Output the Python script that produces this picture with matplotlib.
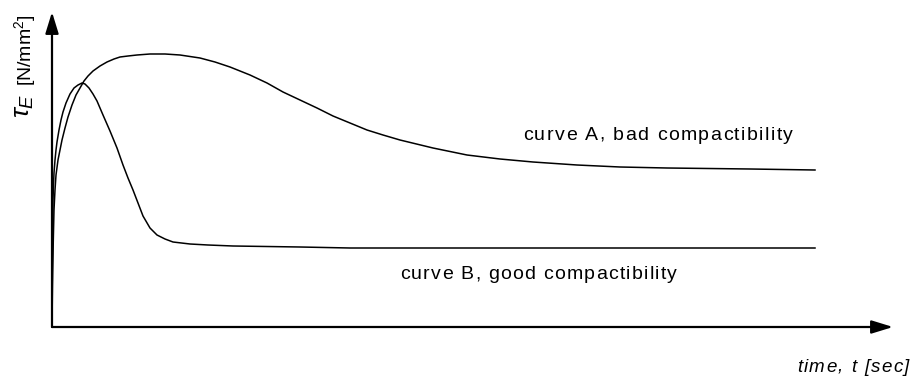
import matplotlib
matplotlib.use('Agg')
import matplotlib.pyplot as plt
from matplotlib.font_manager import FontProperties

plt.rcParams['font.family'] = ['Liberation Sans', 'DejaVu Sans']
plt.rcParams['mathtext.fontset'] = 'custom'
plt.rcParams['mathtext.it'] = 'Liberation Sans:italic'
plt.rcParams['mathtext.rm'] = 'Liberation Sans'

# shear stress curves, time vs tau_E (arbitrary units)
t_a = [0, 0.3, 0.7, 1.3, 2, 3, 4, 6, 8, 10, 13, 16, 20, 24, 28, 32, 36, 41, 48, 55,
       62, 68, 76, 85, 98, 113, 128, 148, 163, 178, 198, 215, 231, 248, 265, 281, 298,
       315, 331, 348, 381, 415, 448, 481, 525, 568, 615, 698, 763]
tau_a = [0, 27, 57, 87, 117, 137, 152, 167, 177, 187, 199, 210, 222, 232, 239, 246,
         251, 256, 261, 265, 268, 270, 271, 272, 273, 273, 272, 269, 265, 260, 252, 244,
         235, 227, 219, 211, 204, 197, 192, 187, 179, 172, 168, 165, 162, 160, 159, 158,
         157]

t_b = [0, 0.2, 0.5, 0.8, 1, 1.5, 2, 3, 4, 5, 7, 9, 11, 14, 18, 22, 26, 30, 33, 37,
       41, 45, 51, 58, 65, 71, 76, 81, 86, 91, 98, 105, 113, 121, 138, 156, 181, 248,
       298, 763]
tau_b = [0, 37, 77, 107, 127, 142, 154, 167, 177, 185, 197, 207, 215, 224, 233, 239,
         242, 244, 243, 239, 233, 226, 212, 196, 179, 162, 149, 137, 124, 111, 99, 92,
         88, 85, 83, 82, 81, 80, 79, 79]

label_a = 'curve A, bad compactibility'
label_b = 'curve B, good compactibility'
label_t = 'time, t [sec]'
label_sym = r'$\tau_E$'
label_unit = r'[N/mm$^2$]'

W, H = 913, 378
fig = plt.figure(figsize=(W / 100, H / 100), dpi=100)
ax = fig.add_axes([52 / W, 51 / H, 841 / W, 315 / H])
ax.set_xlim(0, 841)
ax.set_ylim(0, 315)
ax.axis('off')

ax.plot(t_a, tau_a, color='black', lw=1.1, solid_joinstyle='round')
ax.plot(t_b, tau_b, color='black', lw=1.1, solid_joinstyle='round')

# axes with arrow heads
arrow = dict(arrowstyle='-|>,head_length=1.3,head_width=0.4', color='black', lw=1.6,
             shrinkA=0, shrinkB=0)
ax.annotate('', xy=(0, 1), xytext=(0, 0), xycoords='axes fraction', arrowprops=arrow)
ax.annotate('', xy=(1, 0), xytext=(0, 0), xycoords='axes fraction', arrowprops=arrow)

renderer = fig.canvas.get_renderer()


def advance(ch, prop):
    w1 = renderer.get_text_width_height_descent('|' + ch + '|', prop, ismath=False)[0]
    w0 = renderer.get_text_width_height_descent('||', prop, ismath=False)[0]
    return w1 - w0


def spaced_text(x, y, s, width, size=14, style='normal'):
    # letter-spaced text, left edge x / baseline y in pixels, stretched to width
    prop = FontProperties(family='Liberation Sans', size=size, style=style)
    adv = [advance(ch, prop) for ch in s]
    track = (width - sum(adv)) / (len(s) - 1)
    pos = x
    for ch, a in zip(s, adv):
        fig.text(pos / W, 1 - y / H, ch, fontproperties=prop, ha='left', va='baseline')
        pos += a + track


spaced_text(523, 140, label_a, 270)
spaced_text(400, 279, label_b, 277)
spaced_text(797, 372, label_t, 112, size=13.5, style='italic')

# y label: bigger symbol, unit above it
fig.text(25 / W, 1 - 50 / H, label_unit, fontsize=14, rotation=90,
         ha='center', va='center')
fig.text(24 / W, 1 - 106 / H, label_sym, fontsize=19, rotation=90,
         ha='center', va='center')

fig.savefig('out.png', dpi=100, facecolor='white')
